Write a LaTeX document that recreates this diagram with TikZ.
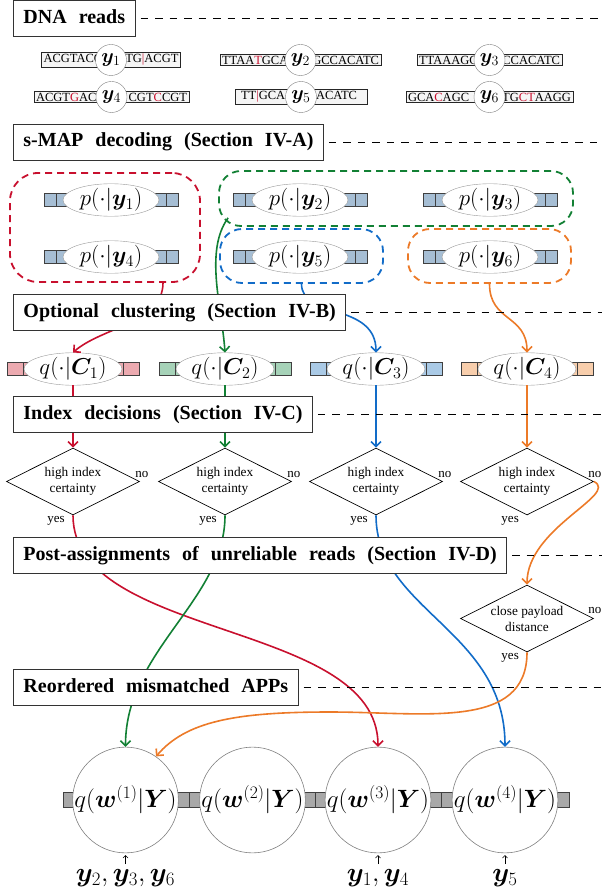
\RequirePackage{fix-cm}
\documentclass[tikz,border=0pt]{standalone}
\usepackage{bm}
\usepackage[no-math]{fontspec}
\setmainfont{Liberation Serif}
\newfontfamily\headfont[WordSpace=2.4]{Liberation Serif}
\usetikzlibrary{arrows.meta,calc,shapes.geometric}

\definecolor{cred}{RGB}{200,16,46}
\definecolor{cgreen}{RGB}{18,128,52}
\definecolor{cblue}{RGB}{18,108,200}
\definecolor{corange}{RGB}{236,122,40}
\definecolor{pcell}{RGB}{166,190,212}
\definecolor{cellA}{RGB}{236,170,176}
\definecolor{cellB}{RGB}{166,210,184}
\definecolor{cellC}{RGB}{170,202,230}
\definecolor{cellD}{RGB}{248,206,172}
\definecolor{wcell}{RGB}{168,168,168}

\tikzstyle{stage}=[rectangle,draw=black!80,fill=white,line width=0.9pt,anchor=west,inner xsep=10pt,inner ysep=8pt,text height=15pt,text depth=5pt,font=\headfont\bfseries\fontsize{20}{24}\selectfont]
\tikzstyle{guide}=[dash pattern=on 7.5pt off 7pt,line width=0.7pt,shorten <=5pt]
\tikzstyle{read}=[rectangle,draw=black!85,fill=gray!8,line width=0.9pt,inner xsep=2pt,inner ysep=1.5pt,font=\fontsize{12.5}{14}\selectfont]
\tikzstyle{readid}=[circle,draw=gray,fill=white,inner sep=0pt,minimum size=31pt,font=\fontsize{20}{24}\selectfont]
\tikzstyle{app}=[ellipse,draw=gray!80,fill=white,inner sep=0pt,minimum width=96pt,minimum height=27pt,font=\fontsize{23}{27}\selectfont]
\tikzstyle{cluster}=[rectangle,rounded corners=22pt,line width=1.8pt,dash pattern=on 7pt off 5pt,inner sep=0pt]
\tikzstyle{cell}=[draw=black!75,line width=0.6pt]
\tikzstyle{decision}=[diamond,aspect=2,draw,line width=0.7pt,fill=white,inner sep=0pt,minimum width=133pt,minimum height=67pt,align=center,font=\fontsize{13.3}{16}\selectfont]
\tikzstyle{branch}=[inner sep=1pt,font=\fontsize{13}{15}\selectfont]
\tikzstyle{flow}=[line width=1.6pt,-{Straight Barb[length=5pt,width=10pt]}]
\tikzstyle{apost}=[circle,draw=gray,line width=0.6pt,fill=white,inner sep=0pt,minimum size=105pt,font=\fontsize{25}{30}\selectfont]
\tikzstyle{readset}=[anchor=north,inner sep=2pt,font=\fontsize{27}{31}\selectfont]
\tikzstyle{pointer}=[line width=0.5pt,shorten <=3pt,shorten >=2pt,-{Straight Barb[length=2.5pt,width=5pt]}]

% centre x, centre y, half length, cell width, fill
\newcommand{\cellrow}[5]{%
  \draw[cell,fill=#5] (#1-#3,#2-6.5) rectangle (#1+#3,#2+6.5);
  \draw[cell] (#1-#3+#4,#2-6.5) -- (#1-#3+#4,#2+6.5);
  \draw[cell] (#1+#3-#4,#2-6.5) -- (#1+#3-#4,#2+6.5);}
\newcommand{\mis}[1]{\textcolor{cred}{#1}}

\begin{document}
\begin{tikzpicture}[x=1pt,y=-1pt]
	\useasboundingbox (0,0) rectangle (602,896);
	\coordinate (rim) at (602,0);
	\def \rowa {60}
	\def \rowb {97}

	% reads
	\node[read] (r1) at (111,\rowa) {\makebox[135pt]{ACGTACG\hfill TG\mis{|}ACGT}};
	\node[read] (r2) at (300.5,\rowa) {\makebox[157pt]{TTAA\mis{T}GCA\hfill GCCACATC}};
	\node[read] (r3) at (489.5,\rowa) {\makebox[141pt]{TTAAAGC\hfill CCACATC}};
	\node[read] (r4) at (111.5,\rowb) {\makebox[151pt]{ACGT\mis{G}AC\hfill CGT\mis{C}CGT}};
	\node[read] (r5) at (301,\rowb) {\makebox[128pt]{\hspace{4pt}TT\mis{|}GCA\hfill ACATC\hspace{8pt}}};
	\node[read] (r6) at (489.5,\rowb) {\makebox[163pt]{GCA\mis{C}AGC\hfill TG\mis{CT}AAGG}};
	\node[readid] (y1) at (r1) {$\bm{y}_1$};
	\node[readid] (y2) at (r2) {$\bm{y}_2$};
	\node[readid] (y3) at (r3) {$\bm{y}_3$};
	\node[readid] (y4) at (r4) {$\bm{y}_4$};
	\node[readid] (y5) at (r5) {$\bm{y}_5$};
	\node[readid] (y6) at (r6) {$\bm{y}_6$};

	% s-MAP outputs and their groups
	\node[cluster,draw=cred,rounded corners=28pt,minimum width=190,minimum height=109] (clu1) at (105,227.5) {};
	\node[cluster,draw=cgreen,minimum width=354,minimum height=55] (clu2) at (396,198.5) {};
	\node[cluster,draw=cblue,minimum width=163,minimum height=54] (clu3) at (301.5,256) {};
	\node[cluster,draw=corange,minimum width=163,minimum height=54] (clu4) at (489.5,256) {};

	\cellrow{111}{200}{67}{12}{pcell}
	\cellrow{300}{200}{67}{12}{pcell}
	\cellrow{490}{200}{67}{12}{pcell}
	\cellrow{111}{257}{67}{12}{pcell}
	\cellrow{300}{257}{67}{12}{pcell}
	\cellrow{490}{257}{67}{12}{pcell}
	\node[app] (p1) at (111,200) {$p(\cdot|\bm{y}_1)$};
	\node[app] (p2) at (300,200) {$p(\cdot|\bm{y}_2)$};
	\node[app] (p3) at (490,200) {$p(\cdot|\bm{y}_3)$};
	\node[app] (p4) at (111,257) {$p(\cdot|\bm{y}_4)$};
	\node[app] (p5) at (300,257) {$p(\cdot|\bm{y}_5)$};
	\node[app] (p6) at (490,257) {$p(\cdot|\bm{y}_6)$};

	% cluster APPs
	\cellrow{73}{369}{66}{16}{cellA}
	\cellrow{225}{369}{66}{16}{cellB}
	\cellrow{376}{369}{66}{16}{cellC}
	\cellrow{527}{369}{66}{16}{cellD}
	\node[app,minimum width=98pt,minimum height=28pt] (q1) at (73,369) {$q(\cdot|\bm{C}_1)$};
	\node[app,minimum width=98pt,minimum height=28pt] (q2) at (225,369) {$q(\cdot|\bm{C}_2)$};
	\node[app,minimum width=98pt,minimum height=28pt] (q3) at (376,369) {$q(\cdot|\bm{C}_3)$};
	\node[app,minimum width=98pt,minimum height=28pt] (q4) at (527,369) {$q(\cdot|\bm{C}_4)$};

	% index tests
	\node[decision] (d1) at (73,481.5) {high index\\certainty};
	\node[decision] (d2) at (225,481.5) {high index\\certainty};
	\node[decision] (d3) at (376,481.5) {high index\\certainty};
	\node[decision] (d4) at (527,481.5) {high index\\certainty};
	\node[decision] (dp) at (527,618.5) {close payload\\distance};
	\node[branch,anchor=base] (n1) at ([xshift=2pt,yshift=4pt]d1.east) {no};
	\node[branch,anchor=base] (n2) at ([xshift=2pt,yshift=4pt]d2.east) {no};
	\node[branch,anchor=base] (n3) at ([xshift=2pt,yshift=4pt]d3.east) {no};
	\node[branch,anchor=base] (n4) at ([xshift=1pt,yshift=4pt]d4.east) {no};
	\node[branch,anchor=base] (np) at ([xshift=1pt,yshift=5pt]dp.east) {no};
	\node[branch,anchor=north east] (s1) at ([xshift=-7pt]d1.south) {yes};
	\node[branch,anchor=north east] (s2) at ([xshift=-7pt]d2.south) {yes};
	\node[branch,anchor=north east] (s3) at ([xshift=-7pt]d3.south) {yes};
	\node[branch,anchor=north east] (s4) at ([xshift=-7pt]d4.south) {yes};
	\node[branch,anchor=north east] (sp) at ([xshift=-7pt]dp.south) {yes};

	% reordered APPs
	\draw[cell,fill=wcell] (63,792.5) rectangle (569,807.5);
	\draw[cell] (189,792.5) -- (189,807.5) (315.5,792.5) -- (315.5,807.5) (441.5,792.5) -- (441.5,807.5);
	\node[apost] (w1) at (125.5,800) {$q(\bm{w}^{(1)}|\bm{Y})$};
	\node[apost] (w2) at (252.5,800) {$q(\bm{w}^{(2)}|\bm{Y})$};
	\node[apost] (w3) at (378,800) {$q(\bm{w}^{(3)}|\bm{Y})$};
	\node[apost] (w4) at (505,800) {$q(\bm{w}^{(4)}|\bm{Y})$};
	\node[readset] (set1) at (125.5,867) {$\bm{y}_2,\bm{y}_3,\bm{y}_6$};
	\node[readset] (set3) at (378,867) {$\bm{y}_1,\bm{y}_4$};
	\node[readset] (set4) at (505,867) {$\bm{y}_5$};
	\draw[pointer] (set1.north) -- (w1.south);
	\draw[pointer] (set3.north) -- (w3.south);
	\draw[pointer] (set4.north) -- (w4.south);

	% groups to clusters
	\coordinate (out1) at ($(clu1.south)+(58,0)$);
	\coordinate (out2) at ($(clu2.south west)+(10,-9)$);
	\coordinate (out3) at (clu3.south);
	\coordinate (out4) at (clu4.south);
	\draw[flow,cred] (out1) .. controls +(0,40) and +(28,-25) .. (q1.north);
	\draw[flow,cgreen] (out2) .. controls +(-24,33) and +(-3,-45) .. (q2.north);
	\draw[flow,cblue] (out3) .. controls +(0,35) and +(0,-50) .. (q3.north);
	\draw[flow,corange] (out4) .. controls +(0,38) and +(0,-38) .. (q4.north);

	\draw[flow,cred] (q1) -- (d1);
	\draw[flow,cgreen] (q2) -- (d2);
	\draw[flow,cblue] (q3) -- (d3);
	\draw[flow,corange] (q4) -- (d4);

	% decisions to positions
	\coordinate (detour) at (330,712);
	\draw[flow,cred] (d1.south) .. controls +(0,125) and +(0,-127) .. (w3.north);
	\draw[flow,cgreen] (d2.south) .. controls +(0,85) and +(0,-97) .. (w1.north);
	\draw[flow,cblue] (d3.south) .. controls +(0,95) and +(0,-117) .. (w4.north);
	\draw[flow,corange] (d4.east) .. controls +(26,13) and +(0,-57) .. (dp.north);
	\draw[flow,corange] (dp.south) .. controls +(0,78) and +(95,0) .. (detour)
		.. controls +(-95,0) and +(30,-35) .. (w1.55);

	% stage headings on top
	\node[stage] (h1) at (13,18.5) {DNA reads};
	\node[stage] (h2) at (13,142) {s-MAP decoding (Section IV-A)};
	\node[stage] (h3) at (13,312.5) {Optional clustering (Section IV-B)};
	\node[stage] (h4) at (13,414.5) {Index decisions (Section IV-C)};
	\node[stage] (h5) at (13,555.5) {Post-assignments of unreliable reads (Section IV-D)};
	\node[stage] (h6) at (13,687) {Reordered mismatched APPs};
	\draw[guide] (h1.east) -- (h1.east -| rim);
	\draw[guide] (h2.east) -- (h2.east -| rim);
	\draw[guide] (h3.east) -- (h3.east -| rim);
	\draw[guide] (h4.east) -- (h4.east -| rim);
	\draw[guide] (h5.east) -- (h5.east -| rim);
	\draw[guide] (h6.east) -- (h6.east -| rim);
\end{tikzpicture}
\end{document}
